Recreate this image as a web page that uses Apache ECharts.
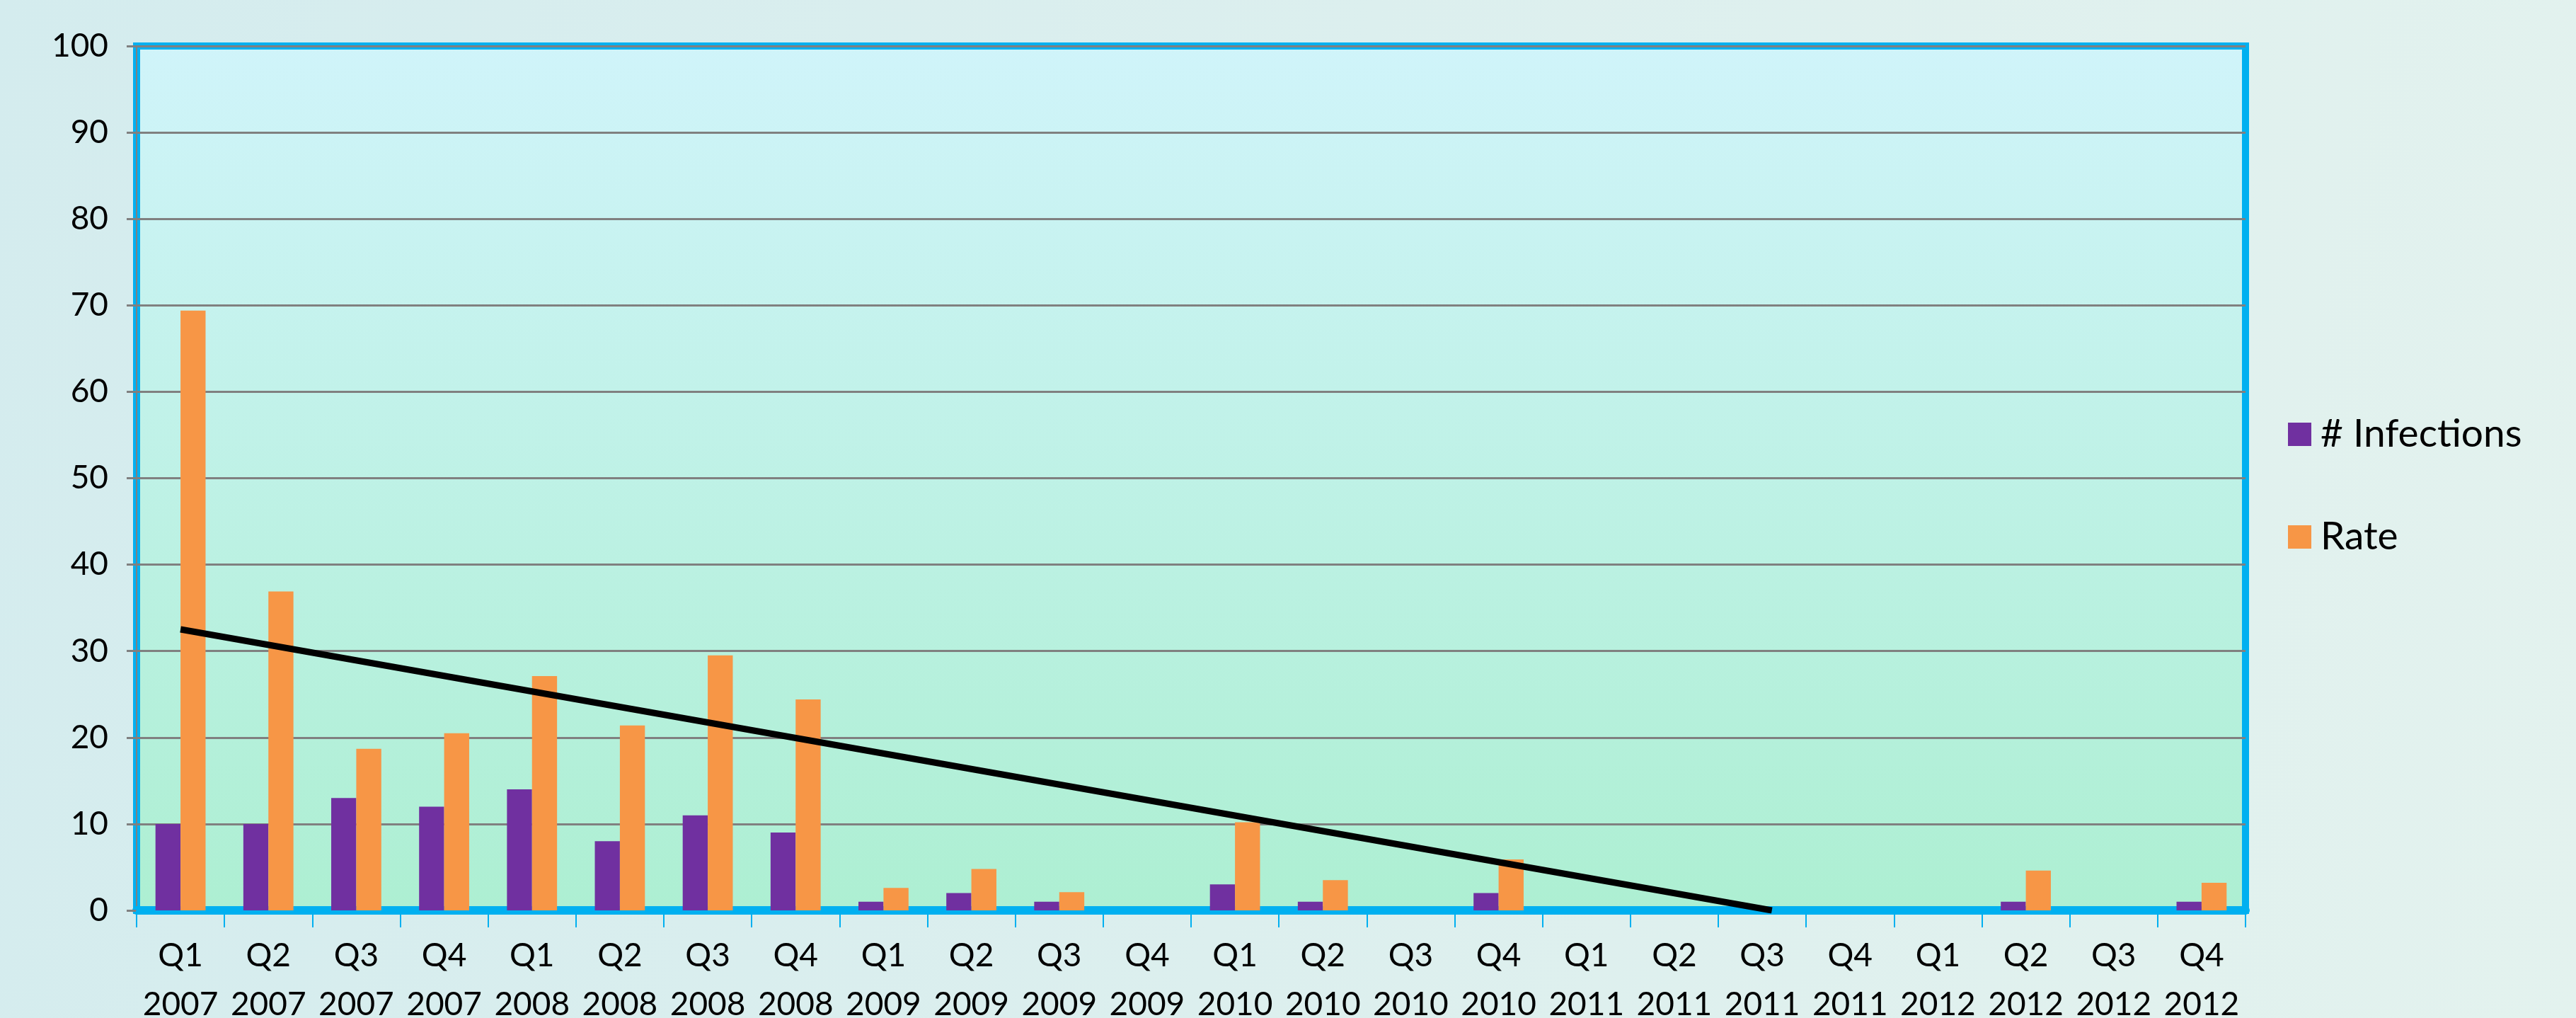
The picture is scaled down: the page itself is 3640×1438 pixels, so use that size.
<!DOCTYPE html>
<html>
<head>
<meta charset="utf-8">
<script src="https://cdn.jsdelivr.net/npm/echarts@6/dist/echarts.min.js"></script>
<style>
html,body{margin:0;padding:0;width:3640px;height:1438px;overflow:hidden;
background:linear-gradient(100deg,#D4ECEE 0%,#DCEFEE 50%,#E3F2EE 100%);}
#c{width:3640px;height:1438px;}
</style>
</head>
<body>
<div id="c"></div>
<script>
const quarters = ['Q1','Q2','Q3','Q4','Q1','Q2','Q3','Q4','Q1','Q2','Q3','Q4','Q1','Q2','Q3','Q4','Q1','Q2','Q3','Q4','Q1','Q2','Q3','Q4'];
const years = ['2007','2007','2007','2007','2008','2008','2008','2008','2009','2009','2009','2009','2010','2010','2010','2010','2011','2011','2011','2011','2012','2012','2012','2012'];
const infections = [10,10,13,12,14,8,11,9,1,2,1,0,3,1,0,2,0,0,0,0,0,1,0,1];
const rate = [69.4,36.9,18.7,20.5,27.1,21.4,29.5,24.4,2.6,4.8,2.1,0,10.2,3.5,0,5.9,0,0,0,0,0,4.6,0,3.2];
const yTicks = [0,10,20,30,40,50,60,70,80,90,100];

const categories = quarters.map((q,i)=>q+'\n'+years[i]);

// linear trendline of Rate (least squares), clipped at the axis minimum 0
const n = rate.length;
let sx=0, sy=0, sxy=0, sxx=0;
rate.forEach((v,i)=>{sx+=i; sy+=v; sxy+=i*v; sxx+=i*i;});
const slope = (n*sxy - sx*sy)/(n*sxx - sx*sx);
const intercept = (sy - slope*sx)/n;
const xZero = -intercept/slope;
const xEnd = Math.min(xZero, n-1);
const trend = [[0, intercept], [xEnd, Math.max(0, intercept + slope*xEnd)]];

const chart = echarts.init(document.getElementById('c'), null, {renderer:'canvas'});
const font = 'Lato, "Open Sans", "Noto Sans", sans-serif';
chart.setOption({
  backgroundColor: 'transparent',
  animation: false,
  textStyle: {fontFamily: font},
  grid: {
    left: 193, right: 467, top: 65, bottom: 152,
    outerBoundsMode: 'none',
    containLabel: false,
    show: true,
    borderColor: '#00B0F0', borderWidth: 10,
    backgroundColor: {type:'linear', x:0, y:0, x2:0, y2:1,
      colorStops:[{offset:0,color:'#D0F4FA'},{offset:1,color:'#ADEFD2'}]}
  },
  legend: {
    orient: 'vertical',
    left: 3228, top: 581,
    icon: 'rect', itemWidth: 33, itemHeight: 33, itemGap: 90,
    data: ['# Infections','Rate'],
    textStyle: {fontSize: 55, color: '#000', fontFamily: font, padding:[0,0,0,8]}
  },
  xAxis: [{
    type: 'category',
    data: categories,
    boundaryGap: true,
    axisLine: {show: true, lineStyle: {color: '#00B0F0', width: 12}},
    axisTick: {show: true, length: 24, lineStyle: {color: '#00B0F0', width: 2}},
    axisLabel: {fontSize: 46, color: '#000', lineHeight: 69, margin: 30, interval: 0, fontFamily: font},
    splitLine: {show: false}
  },{
    type: 'value', min: -0.5, max: n-0.5, show: false,
    splitLine: {show: false}
  }],
  yAxis: {
    type: 'value', min: 0, max: 100, interval: 10,
    axisLine: {show: true, onZero: false, lineStyle: {color: '#808080', width: 2}},
    axisTick: {show: true, length: 14, lineStyle: {color: '#808080', width: 3}},
    axisLabel: {fontSize: 46, color: '#000', margin: 40, fontFamily: font,
      formatter: v => yTicks.includes(v) ? String(v) : ''},
    splitLine: {show: true, lineStyle: {color: '#808080', width: 3}}
  },
  series: [
    {name:'# Infections', type:'bar', data: infections, barGap:'0%', barCategoryGap:'43%',
     itemStyle:{color:'#7030A0'}, z: 2},
    {name:'Rate', type:'bar', data: rate, barGap:'0%', barCategoryGap:'43%',
     itemStyle:{color:'#F79646'}, z: 2},
    {name:'Trend', type:'line', xAxisIndex:1, data: trend, symbol:'none',
     lineStyle:{color:'#000', width:9}, z: 5, silent: true}
  ]
});
</script>
</body>
</html>
